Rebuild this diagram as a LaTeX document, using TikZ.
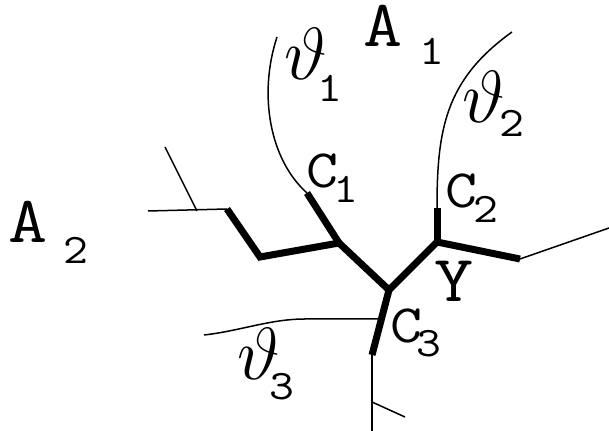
\RequirePackage{fix-cm}
\documentclass[tikz,border=0pt]{standalone}
\usepackage{fontspec}
\setmonofont[FakeStretch=1.15]{Latin Modern Mono}
\usetikzlibrary{positioning}
\newcommand{\subsz}{\ttfamily\fontsize{21}{23}\selectfont}

\begin{document}
\begin{tikzpicture}[
            x=0.5pt, y=-0.5pt,
            thinline/.style={line width=0.75pt},
            thickline/.style={line width=3.5pt},
            big/.style={inner sep=0pt, anchor=base west, font=\ttfamily\fontsize{33}{35}\selectfont},
            mid/.style={inner sep=0pt, anchor=base west, font=\ttfamily\fontsize{27}{29}\selectfont},
            angle/.style={inner sep=0pt, anchor=base west, font=\fontsize{37}{39}\selectfont}
        ]
            \useasboundingbox (0,0) rectangle (609,431);

            % --- POINTS ---
            \coordinate (l1) at (148,211);
            \coordinate (l2) at (197,211);
            \coordinate (l3) at (227,209);
            \coordinate (l4) at (260,257);
            \coordinate (lt) at (165,147);
            \coordinate (j1) at (339,243);
            \coordinate (c1) at (307,193);
            \coordinate (t1) at (277,37);
            \coordinate (y0) at (389,290);
            \coordinate (j2) at (437,242);
            \coordinate (c2) at (437,208);
            \coordinate (t2) at (512,32);
            \coordinate (r1) at (520,259);
            \coordinate (r2) at (609,228);
            \coordinate (k3) at (381,319);
            \coordinate (c3) at (372,355);
            \coordinate (t3) at (204,335);
            \coordinate (b1) at (372,431);
            \coordinate (b2) at (372,402);
            \coordinate (bt) at (405,417);

            % --- THIN LINES ---
            \draw[thinline] (l1) -- (l3);
            \draw[thinline] (lt) -- (l2);
            \draw[thinline] (c1) .. controls (270,160) and (258,95) .. (t1);
            \draw[thinline] (c2) .. controls (437,130) and (445,80) .. (t2);
            \draw[thinline] (r1) -- (r2);
            \draw[thinline] (k3) -- (305,319) .. controls (270,319) and (240,331) .. (t3);
            \draw[thinline] (c3) -- (b1);
            \draw[thinline] (b2) -- (bt);

            % --- THICK LINES ---
            \draw[thickline] (l3) -- (l4) -- (j1) -- (y0) -- (j2) -- (r1);
            \draw[thickline] (c1) -- (j1);
            \draw[thickline] (c2) -- (j2);
            \draw[thickline] (y0) -- (c3);

            % --- LABELS ---
            \node[big] (a1) at (363,47) {A\hspace*{8.4pt}\raisebox{-9pt}{\subsz 1}};
            \node[big] (a2) at (8,243) {A\hspace*{7.9pt}\raisebox{-10.5pt}{\subsz 2}};
            \node[angle] (th1) at (284,80) {$\vartheta$\hspace*{-4.9pt}\raisebox{-11pt}{\subsz 1}};
            \node[angle] (th2) at (462,123) {$\vartheta$\hspace*{-2.9pt}\raisebox{-7pt}{\subsz 2}};
            \node[angle] (th3) at (237,380) {$\vartheta$\hspace*{-5.4pt}\raisebox{-10pt}{\subsz 3}};
            \node[mid] (cc1) at (306,188) {C\hspace*{-2.3pt}\raisebox{-7.5pt}{\subsz 1}};
            \node[mid] (cc2) at (445,208) {C\hspace*{-1.8pt}\raisebox{-7.5pt}{\subsz 2}};
            \node[mid] (cc3) at (390,343) {C\hspace*{-2.8pt}\raisebox{-7pt}{\subsz 3}};
            \node[big] (yy) at (434,302) {Y};
        \end{tikzpicture}
\end{document}
